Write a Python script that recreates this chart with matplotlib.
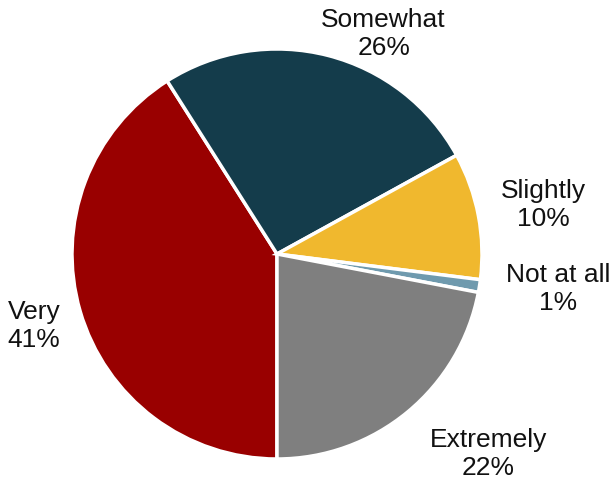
import matplotlib
matplotlib.use("Agg")
import matplotlib.pyplot as plt

# Data
categories = ["Very", "Somewhat", "Slightly", "Not at all", "Extremely"]
values = [41, 26, 10, 1, 22]
colors = ["#990000", "#143c4b", "#f0b82e", "#6f9aae", "#7f7f7f"]

# label centres (in pie-radius units)
label_pos = [(-1.185, -0.35), (0.52, 1.075), (1.30, 0.24), (1.37, -0.17), (1.03, -0.975)]

plt.rcParams['font.family'] = ['Liberation Sans', 'DejaVu Sans']

fig = plt.figure(figsize=(6.16, 4.83), dpi=100)
# pie centre at ~(277, 254) px, radius ~205 px
ax = fig.add_axes([72 / 616, 24 / 483, 410 / 616, 410 / 483])

wedges, _ = ax.pie(values, colors=colors, startangle=270, counterclock=False,
                   radius=1, wedgeprops=dict(edgecolor="white", linewidth=2.5))
ax.set_xlim(-1, 1)
ax.set_ylim(-1, 1)
ax.set_aspect("equal")
ax.axis("off")

for cat, val, (x, y) in zip(categories, values, label_pos):
    ax.text(x, y, f"{cat}\n{val}%", ha="center", va="center",
            fontsize=19, color="#111111", linespacing=1.2)

fig.savefig("out.png", dpi=100)
